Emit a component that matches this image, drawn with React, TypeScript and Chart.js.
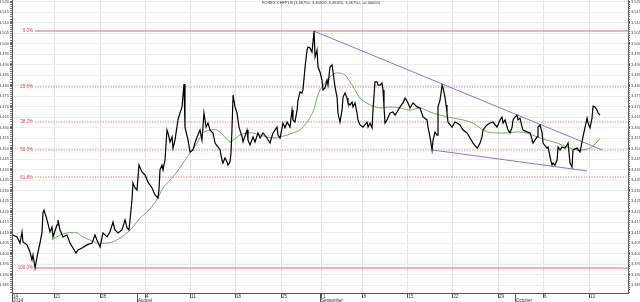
import React, { useEffect, useRef } from 'react';
import { Chart, registerables } from 'chart.js';
Chart.register(...registerables);

const TITLE = 'FOREX CHFPLN (3.46750, 3.46920, 3.46320, 3.46750, +0.00050)';

// x values: trading days counted from the left edge of the chart (14 Jul 2014)
const priceDays = [
  0.11, 0.56, 0.89, 1.11, 1.22, 1.67, 2.0, 2.22, 2.33, 2.56, 2.78, 2.89, 3.11, 3.33, 3.44, 3.56, 3.89, 4.22, 4.44, 4.56,
  5.0, 5.11, 5.33, 5.67, 6.11, 6.44, 6.78, 7.11, 7.33, 7.78, 8.33, 8.89, 9.22, 9.44, 9.78, 10.11, 10.56, 10.89, 11.22, 11.44,
  11.78, 12.22, 12.56, 12.78, 13.0, 13.22, 13.33, 13.44, 13.67, 13.89, 14.11, 14.44, 14.78, 15.11, 15.56, 15.89, 16.22, 16.33, 16.44, 16.67,
  16.78, 17.0, 17.22, 17.33, 17.56, 17.78, 17.89, 18.11, 18.44, 18.67, 18.89, 19.11, 19.22, 19.56, 19.78, 20.11, 20.33, 20.56, 20.89, 21.11,
  21.33, 21.56, 21.78, 22.0, 22.33, 22.56, 22.89, 23.11, 23.33, 23.44, 23.67, 23.89, 24.0, 24.22, 24.33, 24.44, 24.56, 24.78, 25.0, 25.22,
  25.56, 25.67, 26.11, 26.22, 26.44, 26.78, 27.0, 27.33, 27.56, 27.89, 28.33, 28.67, 29.0, 29.44, 29.56, 29.78, 30.11, 30.33, 30.56, 30.89,
  31.11, 31.22, 31.44, 31.67, 31.78, 32.0, 32.22, 32.33, 32.56, 32.78, 32.89, 33.11, 33.33, 33.56, 33.67, 33.89, 34.0, 34.22, 34.44, 34.56,
  34.78, 35.0, 35.11, 35.33, 35.56, 35.67, 35.89, 36.11, 36.22, 36.44, 36.67, 36.78, 37.0, 37.22, 37.33, 37.56, 37.78, 37.89, 38.11, 38.33,
  38.44, 38.67, 39.0, 39.44, 39.56, 39.78, 40.0, 40.11, 40.33, 40.56, 40.67, 40.89, 41.11, 41.22, 41.33, 41.44, 41.67, 42.0, 42.33, 42.56,
  42.78, 43.11, 43.44, 43.67, 44.0, 44.22, 44.56, 45.0, 45.33, 45.67, 46.11, 46.22, 46.44, 46.67, 46.78, 47.0, 47.22, 47.33, 47.56, 47.78,
  47.89, 48.11, 48.22, 48.33, 48.44, 48.89, 49.22, 49.44, 49.78, 50.11, 50.56, 50.89, 51.22, 51.67, 51.78, 52.0, 52.22, 52.33, 52.56, 52.78,
  53.11, 53.44, 53.89, 54.22, 54.44, 54.56, 54.78, 55.11, 55.33, 55.56, 55.67, 55.89, 56.11, 56.22, 56.44, 56.67, 56.78, 57.22, 57.56, 57.89,
  58.33, 58.44, 58.67, 58.89, 59.0, 59.44, 59.56, 59.78, 60.0, 60.11, 60.33, 60.56, 60.67, 60.89, 61.11, 61.44, 61.67, 61.78, 62.0, 62.22,
  62.33, 62.78, 63.11, 63.44, 63.67, 63.89, 64.0, 64.22, 64.44, 64.56, 64.78, 65.0, 65.11, 65.33,
];
const priceValues = [
  3.4089, 3.408, 3.4051, 3.4104, 3.4056, 3.4042, 3.4008, 3.397, 3.3994, 3.3932, 3.3984, 3.4008, 3.4051, 3.4099, 3.4194, 3.4208, 3.4161, 3.4104, 3.4127, 3.408,
  3.4137, 3.4161, 3.4113, 3.408, 3.4089, 3.4051, 3.4027, 3.4003, 3.4018, 3.4027, 3.4042, 3.4051, 3.4089, 3.4065, 3.4032, 3.4099, 3.408, 3.4104, 3.4151, 3.4113,
  3.4099, 3.4113, 3.4161, 3.4123, 3.4113, 3.4208, 3.4256, 3.4337, 3.4313, 3.4303, 3.4422, 3.4389, 3.4375, 3.4341, 3.4313, 3.428, 3.4266, 3.4303, 3.4399, 3.4422,
  3.4399, 3.4446, 3.4589, 3.4575, 3.4532, 3.4556, 3.4503, 3.4541, 3.4637, 3.467, 3.4699, 3.4808, 3.4603, 3.4541, 3.4484, 3.4494, 3.4527, 3.4556, 3.4589, 3.4541,
  3.467, 3.4603, 3.4622, 3.4589, 3.4575, 3.4527, 3.4508, 3.4494, 3.4446, 3.4432, 3.4456, 3.4437, 3.4422, 3.4437, 3.4479, 3.4589, 3.4756, 3.4699, 3.467, 3.4603,
  3.4556, 3.4532, 3.4589, 3.4541, 3.4518, 3.4556, 3.4532, 3.4575, 3.4551, 3.4575, 3.4551, 3.4527, 3.4575, 3.4603, 3.4565, 3.4551, 3.4622, 3.4599, 3.4627, 3.4603,
  3.4684, 3.4637, 3.4627, 3.4684, 3.4732, 3.477, 3.4765, 3.478, 3.4889, 3.497, 3.4984, 3.498, 3.496, 3.506, 3.4937, 3.497, 3.4889, 3.4865, 3.4827, 3.478,
  3.4789, 3.4827, 3.4803, 3.4889, 3.4899, 3.4865, 3.4794, 3.4746, 3.467, 3.4627, 3.4684, 3.4746, 3.4765, 3.4741, 3.4718, 3.4708, 3.4722, 3.4699, 3.4718, 3.467,
  3.4637, 3.4613, 3.4603, 3.4627, 3.4603, 3.4622, 3.4599, 3.4684, 3.4818, 3.4818, 3.4803, 3.4803, 3.4813, 3.478, 3.4699, 3.4622, 3.4637, 3.467, 3.4675, 3.466,
  3.4675, 3.4699, 3.4718, 3.4741, 3.4718, 3.4694, 3.4718, 3.4699, 3.4694, 3.4651, 3.4637, 3.4603, 3.4556, 3.4494, 3.4541, 3.458, 3.4565, 3.4699, 3.4732, 3.4803,
  3.4789, 3.4746, 3.4708, 3.467, 3.4627, 3.4603, 3.4627, 3.4622, 3.4613, 3.4589, 3.4575, 3.4551, 3.4527, 3.4503, 3.4508, 3.4527, 3.4556, 3.4589, 3.4603, 3.4613,
  3.4622, 3.4627, 3.4603, 3.4637, 3.4651, 3.4622, 3.4637, 3.4589, 3.4575, 3.4603, 3.4637, 3.4651, 3.466, 3.4637, 3.4646, 3.4603, 3.4589, 3.458, 3.4575, 3.4527,
  3.4556, 3.4603, 3.4613, 3.4575, 3.4527, 3.4503, 3.4508, 3.446, 3.4422, 3.4432, 3.4422, 3.4446, 3.4508, 3.4494, 3.4508, 3.4503, 3.4518, 3.4527, 3.4432, 3.4413,
  3.4494, 3.4503, 3.4484, 3.4556, 3.4603, 3.4646, 3.4622, 3.4599, 3.4646, 3.4703, 3.4699, 3.4684, 3.467, 3.466,
];

const maDays = [
  4.44, 5.33, 6.11, 7.22, 7.89, 8.67, 9.44, 10.56, 11.22, 12.0, 12.78, 13.44, 14.22, 15.0, 15.67, 16.22, 16.78, 17.56, 18.33, 19.0,
  19.78, 20.56, 21.22, 22.0, 22.78, 23.44, 24.22, 24.56, 25.33, 26.11, 26.78, 27.56, 28.33, 29.0, 29.78, 30.56, 31.22, 32.0, 32.78, 33.44,
  33.89, 34.22, 34.78, 35.33, 35.89, 36.44, 37.0, 37.56, 38.11, 38.67, 39.78, 40.89, 42.0, 43.11, 44.22, 45.33, 46.44, 47.56, 49.0, 50.11,
  51.22, 52.0, 52.78, 53.89, 55.0, 56.11, 57.22, 58.33, 59.44, 60.56, 61.67, 62.78, 63.44, 64.22, 65.0, 65.33,
];
const maValues = [
  3.4065, 3.4089, 3.4099, 3.4099, 3.408, 3.4065, 3.4051, 3.4051, 3.4056, 3.4075, 3.4099, 3.4127, 3.417, 3.4199, 3.4232, 3.4266, 3.4313, 3.4351, 3.4389, 3.4432,
  3.4479, 3.4527, 3.4575, 3.4589, 3.4589, 3.4565, 3.4532, 3.4541, 3.4565, 3.4575, 3.4575, 3.4565, 3.4556, 3.4551, 3.4556, 3.4565, 3.4575, 3.4589, 3.4627, 3.4675,
  3.4742, 3.478, 3.4813, 3.4841, 3.486, 3.486, 3.4851, 3.4818, 3.478, 3.4741, 3.4708, 3.4694, 3.4699, 3.4694, 3.4684, 3.4694, 3.4675, 3.466, 3.4646, 3.4637,
  3.4622, 3.4599, 3.458, 3.4575, 3.4575, 3.458, 3.4575, 3.4556, 3.4541, 3.4527, 3.4508, 3.4494, 3.4494, 3.4503, 3.4532, 3.4551,
];

const upperTrendDays = [33.56, 65.56];
const upperTrendValues = [3.506, 3.4494];
const lowerTrendDays = [46.67, 63.89];
const lowerTrendValues = [3.4494, 3.4394];

const fibHigh = 3.506;
const fibLow = 3.3932;
const fibStartDay = 2.56;
const fibRatios = [0, 0.236, 0.382, 0.5, 0.618, 1];
const fibLabels = ['0.0%', '23.6%', '38.2%', '50.0%', '61.8%', '100.0%'];

const weekTickDays = [0, 4.7, 9.78, 14.78, 19.78, 24.78, 29.89, 34.44, 38.94, 43.94, 48.94, 54.0, 59.0, 64.11];
const weekTickLabels = ['14', '21', '28', '4', '11', '18', '25', '1', '8', '15', '22', '29', '6', '13'];
const monthTickDays = [0, 13.89, 34.22, 55.89];
const monthTickLabels = ['2014', 'August', 'September', 'October'];

const X_MIN = 0;
const X_MAX = 68.44;
const Y_MIN = 3.38129;
const Y_MAX = 3.52081;
const Y_STEP = 0.005;

const FONT = 'Liberation Sans';

const zip = (xs: number[], ys: number[]) => xs.map((x, i) => ({ x, y: ys[i] }));

const fibPlugin = {
  id: 'fib',
  beforeDatasetsDraw(chart: any) {
    const ctx = chart.ctx;
    const xs = chart.scales.x;
    const yl = chart.scales.y;
    const x0 = xs.getPixelForValue(fibStartDay);
    const x1 = xs.getPixelForValue(X_MAX);
    ctx.save();
    fibRatios.forEach((r, i) => {
      const v = fibHigh - r * (fibHigh - fibLow);
      const py = Math.round(yl.getPixelForValue(v));
      const solid = i === 0 || i === fibRatios.length - 1;
      ctx.strokeStyle = solid ? '#e86666' : '#f07676';
      ctx.lineWidth = solid ? 1.2 : 1.2;
      ctx.setLineDash(solid ? [] : [1.3, 1.3]);
      ctx.beginPath();
      ctx.moveTo(x0, py);
      ctx.lineTo(x1, py);
      ctx.stroke();
    });
    ctx.restore();
  },
};

const overlayPlugin = {
  id: 'overlay',
  afterDraw(chart: any) {
    const ctx = chart.ctx;
    const xs = chart.scales.x;
    const yl = chart.scales.y;
    const area = chart.chartArea;
    ctx.save();
    // title
    ctx.fillStyle = '#333';
    ctx.font = `4px "${FONT}"`;
    ctx.textAlign = 'center';
    ctx.textBaseline = 'top';
    ctx.fillText(TITLE, 321, 1);
    // fib labels
    ctx.fillStyle = '#e03c3c';
    ctx.font = `4.5px "${FONT}"`;
    ctx.textAlign = 'right';
    ctx.textBaseline = 'middle';
    const lx = xs.getPixelForValue(fibStartDay) - 2;
    fibRatios.forEach((r, i) => {
      const v = fibHigh - r * (fibHigh - fibLow);
      ctx.fillText(fibLabels[i], lx, yl.getPixelForValue(v));
    });
    // minor ticks on y axes
    ctx.strokeStyle = '#777';
    ctx.lineWidth = 1;
    ctx.beginPath();
    for (let v = Math.ceil(Y_MIN * 1000) / 1000; v <= Y_MAX; v += 0.001) {
      const py = Math.round(yl.getPixelForValue(v)) + 0.5;
      ctx.moveTo(area.left - 2, py);
      ctx.lineTo(area.left, py);
      ctx.moveTo(area.right, py);
      ctx.lineTo(area.right + 2, py);
    }
    ctx.stroke();
    // x labels
    ctx.fillStyle = '#333';
    ctx.font = `4.5px "${FONT}"`;
    ctx.textAlign = 'left';
    ctx.textBaseline = 'top';
    weekTickDays.forEach((d, i) => {
      ctx.fillText(weekTickLabels[i], xs.getPixelForValue(d) + 1, area.bottom + 1.5);
    });
    ctx.beginPath();
    ctx.strokeStyle = '#555';
    monthTickDays.forEach((d, i) => {
      const px = Math.round(xs.getPixelForValue(d)) + 0.5;
      ctx.moveTo(px, area.bottom);
      ctx.lineTo(px, area.bottom + 9);
      ctx.fillText(monthTickLabels[i], px + 0.5, area.bottom + 5.5);
    });
    ctx.stroke();
    ctx.restore();
  },
};

export default function App() {
  const ref = useRef<HTMLCanvasElement | null>(null);
  useEffect(() => {
    if (!ref.current) return;
    const chart = new Chart(ref.current, {
      type: 'line',
      data: {
        datasets: [
          { label: 'Price', data: zip(priceDays, priceValues), borderColor: '#000', borderWidth: 1.2, pointRadius: 0, tension: 0 },
          { label: 'Upper', data: zip(upperTrendDays, upperTrendValues), borderColor: '#7b7be0', borderWidth: 1, pointRadius: 0 },
          { label: 'Lower', data: zip(lowerTrendDays, lowerTrendValues), borderColor: '#7b7be0', borderWidth: 1, pointRadius: 0 },
          { label: 'MA', data: zip(maDays, maValues), borderColor: '#62a055', borderWidth: 0.9, pointRadius: 0, tension: 0.3 },
        ],
      },
      options: {
        responsive: false,
        animation: false,
        devicePixelRatio: 1,
        layout: { padding: 0 },
        plugins: { legend: { display: false }, tooltip: { enabled: false }, title: { display: false } },
        scales: {
          x: {
            type: 'linear',
            position: 'bottom',
            min: X_MIN,
            max: X_MAX,
            afterBuildTicks: (s: any) => { s.ticks = weekTickDays.map((v) => ({ value: v })); },
            afterFit: (s: any) => { s.height = 9; s.paddingLeft = 0; s.paddingRight = 0; },
            ticks: { display: false },
            grid: { color: '#e2e2e2', lineWidth: 1, drawTicks: true, tickLength: 5, tickColor: '#555' },
            border: { color: '#555' },
          },
          y: {
            type: 'linear',
            position: 'left',
            min: Y_MIN,
            max: Y_MAX,
            ticks: {
              stepSize: Y_STEP,
              includeBounds: false,
              font: { size: 4, family: FONT },
              color: '#444',
              padding: 1,
              callback: (v: any) => Number(v).toFixed(3),
            },
            afterFit: (s: any) => { s.width = 12; s.paddingTop = 0; s.paddingBottom = 0; },
            grid: { color: '#ececec', lineWidth: 1, drawTicks: true, tickLength: 2, tickColor: '#555' },
            border: { color: '#555' },
          },
          yR: {
            type: 'linear',
            position: 'right',
            min: Y_MIN,
            max: Y_MAX,
            ticks: {
              stepSize: Y_STEP,
              includeBounds: false,
              font: { size: 4, family: FONT },
              color: '#444',
              padding: 1,
              callback: (v: any) => Number(v).toFixed(3),
            },
            afterFit: (s: any) => { s.width = 12; s.paddingTop = 0; s.paddingBottom = 0; },
            grid: { drawOnChartArea: false, drawTicks: true, tickLength: 2, tickColor: '#555' },
            border: { color: '#555' },
          },
        },
      },
      plugins: [fibPlugin, overlayPlugin],
    });
    return () => chart.destroy();
  }, []);
  return (
    <div style={{ position: 'fixed', left: 0, top: 0, width: 640, height: 302, background: '#fff' }}>
      <canvas ref={ref} width={640} height={302} style={{ display: 'block' }} />
    </div>
  );
}
